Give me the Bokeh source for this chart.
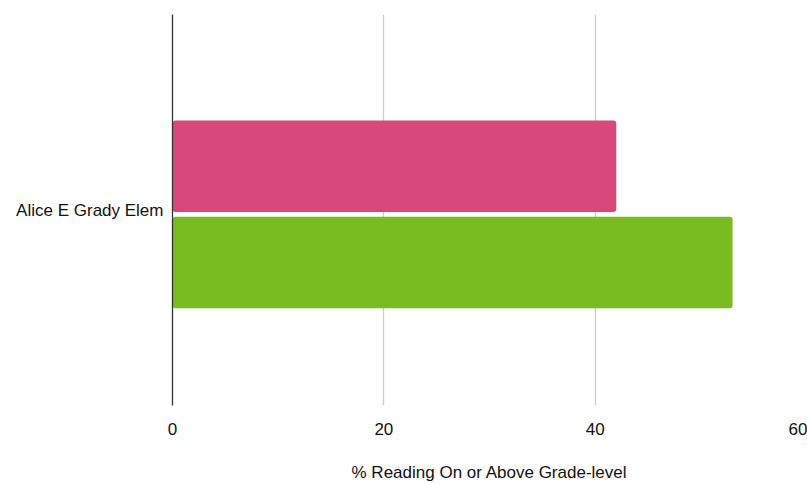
from bokeh.plotting import figure
from bokeh.models import FactorRange, Range1d, FixedTicker
from bokeh.transform import dodge
from bokeh.embed import file_html
from bokeh.resources import INLINE
from bokeh.models import ColumnDataSource

schools = ["Alice E Grady Elem"]
series_a = [42.0]
series_b = [53.0]
x_ticks = [0, 20, 40, 60]
x_title = "% Reading On or Above Grade-level"

src = ColumnDataSource(dict(school=schools, a=series_a, b=series_b))

p = figure(width=807, height=484, output_backend="svg", toolbar_location=None,
           y_range=FactorRange(factors=schools, range_padding=0),
           x_range=Range1d(0, 60),
           min_border_left=172, min_border_top=14, min_border_bottom=76, min_border_right=1)

p.hbar(y=dodge("school", 0.112, range=p.y_range), left=0, right="a", height=0.234,
       source=src, color="#D6497A", line_color=None, border_radius=3)
p.hbar(y=dodge("school", -0.134, range=p.y_range), left=0, right="b", height=0.234,
       source=src, color="#78BC21", line_color=None, border_radius=3)

p.outline_line_color = None
p.ygrid.grid_line_color = None
p.xgrid.grid_line_color = "#CCCCCC"
p.xgrid.grid_line_width = 1.3
p.xaxis.ticker = FixedTicker(ticks=x_ticks)
p.xaxis.axis_line_color = None
p.xaxis.major_tick_line_color = None
p.xaxis.minor_tick_line_color = None
p.xaxis.major_label_standoff = 11
p.xaxis.major_label_text_font = "Liberation Sans"
p.xaxis.major_label_text_font_size = "17px"
p.xaxis.major_label_text_color = "#111111"
p.xaxis.axis_label = x_title
p.xaxis.axis_label_text_font = "Liberation Sans"
p.xaxis.axis_label_text_font_size = "17px"
p.xaxis.axis_label_text_font_style = "normal"
p.xaxis.axis_label_text_color = "#111111"
p.xaxis.axis_label_standoff = 25

p.yaxis.axis_line_color = "#333333"
p.yaxis.axis_line_width = 1.3
p.yaxis.major_tick_line_color = None
p.yaxis.minor_tick_line_color = None
p.yaxis.major_label_standoff = 3
p.yaxis.major_label_text_font = "Liberation Sans"
p.yaxis.major_label_text_font_size = "17px"
p.yaxis.major_label_text_color = "#111111"

open("out.html", "w").write(file_html(p, INLINE))
